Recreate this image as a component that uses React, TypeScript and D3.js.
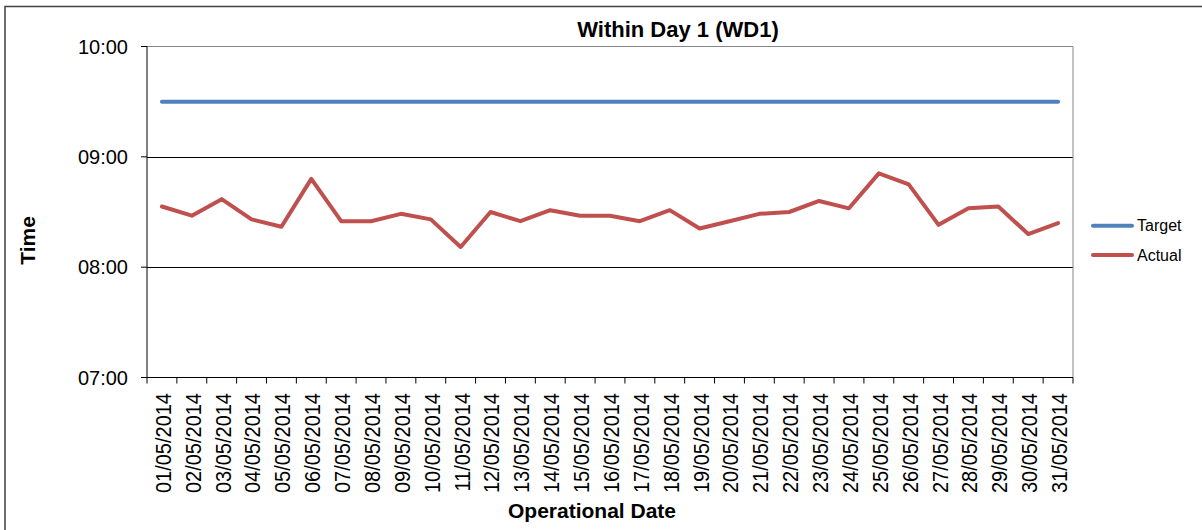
import React from "react";
import * as d3 from "d3";

const dates = [
  "01/05/2014","02/05/2014","03/05/2014","04/05/2014","05/05/2014","06/05/2014","07/05/2014","08/05/2014",
  "09/05/2014","10/05/2014","11/05/2014","12/05/2014","13/05/2014","14/05/2014","15/05/2014","16/05/2014",
  "17/05/2014","18/05/2014","19/05/2014","20/05/2014","21/05/2014","22/05/2014","23/05/2014","24/05/2014",
  "25/05/2014","26/05/2014","27/05/2014","28/05/2014","29/05/2014","30/05/2014","31/05/2014",
];
const actual = [
  "08:33","08:28","08:37","08:26","08:22","08:48","08:25","08:25","08:29","08:26","08:11",
  "08:30","08:25","08:31","08:28","08:28","08:25","08:31","08:21","08:25","08:29","08:30",
  "08:36","08:32","08:51","08:45","08:23","08:32","08:33","08:18","08:24",
];
const target = dates.map(() => "09:30");
const yTicks = ["07:00", "08:00", "09:00", "10:00"];
const seriesNames = ["Target", "Actual"];
const seriesColors = ["#4F81BD", "#C0504D"];

const toMin = (s: string) => {
  const [h, m] = s.split(":").map(Number);
  return h * 60 + m;
};

const W = 1202;
const H = 530;
const L = 147, R = 1073, T = 46.5, B = 377.5;
const FONT = "'Liberation Sans', Arial, sans-serif";

export default function App() {
  const x = d3.scaleBand<string>().domain(dates).range([L, R]).paddingInner(0).paddingOuter(0);
  const y = d3.scaleLinear().domain([toMin(yTicks[0]), toMin(yTicks[yTicks.length - 1])]).range([B, T]);
  const cx = (d: string) => (x(d) as number) + x.bandwidth() / 2;
  const line = d3
    .line<[string, string]>()
    .x((d) => cx(d[0]))
    .y((d) => y(toMin(d[1])));
  const series = [target, actual];
  const boundaries = d3.range(dates.length + 1).map((i) => L + i * x.bandwidth());

  return (
    <svg width={W} height={H} style={{ position: "absolute", left: 0, top: 0, background: "#fff" }} fontFamily={FONT}>
      <rect x={5} y={6.5} width={W + 10} height={H + 10} fill="#fff" stroke="#404040" strokeWidth={1.5} />
      {/* gridlines */}
      {yTicks.slice(1, -1).map((t) => (
        <line key={t} x1={L} x2={R} y1={Math.round(y(toMin(t))) + 0.5} y2={Math.round(y(toMin(t))) + 0.5} stroke="#000" strokeWidth={1} />
      ))}
      {/* plot border top/right */}
      <line x1={L} x2={R} y1={T} y2={T} stroke="#868686" strokeWidth={1} />
      <line x1={R} x2={R} y1={T} y2={B} stroke="#868686" strokeWidth={1} />
      {/* y axis */}
      <line x1={L} x2={L} y1={T} y2={B} stroke="#000" strokeWidth={1} />
      {yTicks.map((t) => (
        <g key={t}>
          <line x1={L - 6} x2={L} y1={y(toMin(t))} y2={y(toMin(t))} stroke="#000" strokeWidth={1} />
          <text x={128} y={y(toMin(t))} dy="0.36em" textAnchor="end" fontSize={20} fill="#000">
            {t}
          </text>
        </g>
      ))}
      {/* x axis */}
      <line x1={L} x2={R} y1={B} y2={B} stroke="#000" strokeWidth={1} />
      {boundaries.map((bx, i) => (
        <line key={i} x1={bx} x2={bx} y1={B} y2={B + 6} stroke="#000" strokeWidth={1} />
      ))}
      {dates.map((d) => (
        <text
          key={d}
          transform={`translate(${cx(d) + 1},393) rotate(-90) scale(1,1.1)`}
          textAnchor="end"
          dy="0.36em"
          fontSize={20}
          fill="#000"
        >
          {d}
        </text>
      ))}
      {/* series */}
      {series.map((s, i) => (
        <path
          key={seriesNames[i]}
          d={line(dates.map((d, j) => [d, s[j]] as [string, string])) || ""}
          fill="none"
          stroke={seriesColors[i]}
          strokeWidth={4}
          strokeLinejoin="round"
          strokeLinecap="round"
        />
      ))}
      {/* titles */}
      <text x={678} y={37} textAnchor="middle" fontSize={22} fontWeight="bold" fill="#000">
        Within Day 1 (WD1)
      </text>
      <text x={592} y={518} textAnchor="middle" fontSize={21} fontWeight="bold" fill="#000">
        Operational Date
      </text>
      <text transform="translate(35,240.5) rotate(-90)" textAnchor="middle" fontSize={21} fontWeight="bold" fill="#000">
        Time
      </text>
      {/* legend */}
      {seriesNames.map((n, i) => (
        <g key={n} transform={`translate(0,${225.7 + i * 29.3})`}>
          <line x1={1093} x2={1132} y1={0} y2={0} stroke={seriesColors[i]} strokeWidth={4} strokeLinecap="round" />
          <text x={1137} y={0} dy="0.36em" fontSize={16} fill="#000">
            {n}
          </text>
        </g>
      ))}
    </svg>
  );
}
